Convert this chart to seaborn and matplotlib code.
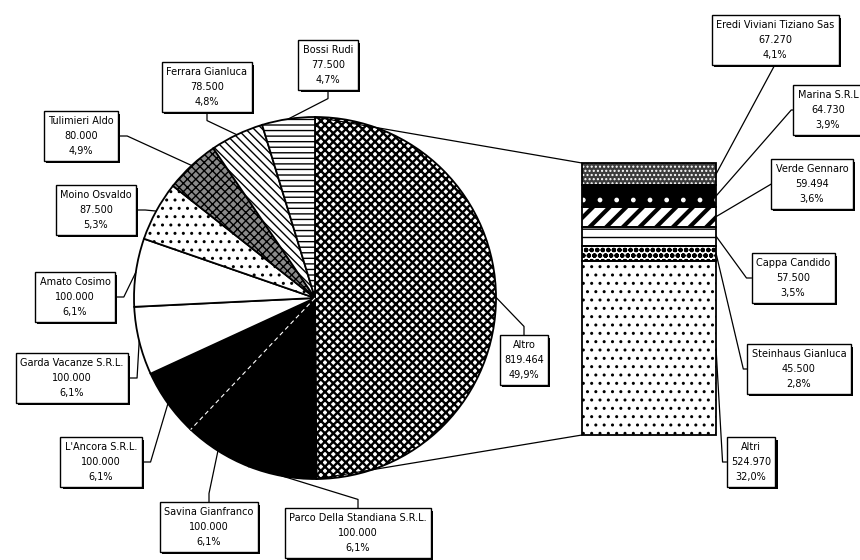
import matplotlib
matplotlib.use("Agg")
import numpy as np
import matplotlib.pyplot as plt
import matplotlib.patheffects as pe
import seaborn as sns

sns.set_theme(style="white")
plt.rcParams['font.family'] = ['DejaVu Sans']
plt.rcParams['text.color'] = 'black'
plt.rcParams['hatch.linewidth'] = 1.0

#####################################################################
# pie slices, clockwise from 12 o'clock
pie_names = ["Altro", "Parco Della Standiana S.R.L.", "Savina Gianfranco", "L'Ancora S.R.L.",
             "Garda Vacanze S.R.L.", "Amato Cosimo", "Moino Osvaldo", "Tulimieri Aldo",
             "Ferrara Gianluca", "Bossi Rudi"]
pie_values = [819464, 100000, 100000, 100000, 100000, 100000, 87500, 80000, 78500, 77500]

# the "Altro" slice broken down in the bar, bottom to top
bar_names = ["Altri", "Steinhaus Gianluca", "Cappa Candido", "Verde Gennaro",
             "Marina S.R.L", "Eredi Viviani Tiziano Sas"]
bar_values = [524970, 45500, 57500, 59494, 64730, 67270]
#####################################################################
# black & white print look
pie_faces = ['white', 'black', 'black', 'black', 'white', 'white', 'white', '#8a8a8a', 'white', 'white']
pie_hatches = ['xxxx', '', '', '', '', '', '..', 'xxxx', '\\\\\\\\', '---']
pie_hatch_lw = [1.7, 1, 1, 1, 1, 1, 1, 1.0, 1, 1]
bar_faces = ['white', 'white', 'white', 'white', 'black', '#3c3c3c']
bar_hatch_colors = ['black', 'black', 'black', 'black', 'white', 'white']
bar_hatches = ['..', 'ooo', '--', '//', '.', '....']
bar_hatch_lw = [1.0, 1.6, 1.0, 3.0, 1.0, 1.0]

# label box centres (pixels) and the side the leader leaves from
pie_label_xy = [(524, 360), (358, 533), (209, 527), (101, 462), (72, 378),
                (75, 297), (96, 210), (81, 136), (207, 87), (328, 65)]
pie_label_side = ['t', 't', 't', 'r', 'r', 'r', 'r', 'r', 'b', 'b']
bar_label_xy = [(751, 462), (799, 369), (793, 278), (812, 184), (828, 110), (775, 40)]
bar_label_side = ['l', 'l', 'l', 'l', 'l', 'b']
bar_label_elbow = [4, 4, 5, 0, 2, 0]

W, H = 860, 560
CX, CY, R = 315, 298, 181
BL, BT, BR, BB = 582, 163, 716, 435   # bar box in pixels

total = sum(pie_values)


def fmt(name, v):
    val = f"{v:,}".replace(",", ".")
    pct = f"{v / total * 100:.1f}".replace(".", ",") + "%"
    return f"{name}\n{val}\n{pct}"


def edge_pt(deg, r=R):
    a = np.radians(deg)
    return CX + r * np.sin(a), CY - r * np.cos(a)


def set_hatch_lw(patch, lw):
    if hasattr(patch, 'set_hatch_linewidth'):
        patch.set_hatch_linewidth(lw)
    elif hasattr(patch, '_hatch_linewidth'):
        patch._hatch_linewidth = lw


fig = plt.figure(figsize=(W / 100, H / 100), dpi=100)
ax = fig.add_axes([0, 0, 1, 1])

wedges, _ = ax.pie(pie_values, startangle=-90, counterclock=True, center=(CX, CY), radius=R,
                   colors=pie_faces, wedgeprops=dict(edgecolor='black', linewidth=1.3))
for w, h, lw in zip(wedges, pie_hatches, pie_hatch_lw):
    w.set_hatch(h)
    set_hatch_lw(w, lw)
ax.set_xlim(0, W)
ax.set_ylim(H, 0)
ax.set_aspect('equal')
ax.axis('off')

cum = np.concatenate([[0], np.cumsum(pie_values)]) / total * 360
mids = (cum[:-1] + cum[1:]) / 2

# dashed white divider inside the black block
px, py = edge_pt(cum[3])
ax.plot([CX, px], [CY, py], color='white', lw=0.8, ls=(0, (4, 3)), zorder=3)

# stacked bar
bax = fig.add_axes([BL / W, 1 - BB / H, (BR - BL) / W, (BB - BT) / H])
bottoms = np.concatenate([[0], np.cumsum(bar_values)[:-1]])
for v, b, fc, hc, h, lw in zip(bar_values, bottoms, bar_faces, bar_hatch_colors, bar_hatches, bar_hatch_lw):
    bars = bax.bar(0, v, bottom=b, width=1, color=fc, edgecolor=hc, hatch=h, linewidth=0)
    for p in bars:
        set_hatch_lw(p, lw)
bax.bar(0, bar_values, bottom=bottoms, width=1, fill=False, edgecolor='black',
        linewidth=1.3, clip_on=False)
bax.set_xlim(-0.5, 0.5)
bax.set_ylim(0, sum(bar_values))
bax.axis('off')


def bar_to_main(x, y):
    return ax.transData.inverted().transform(bax.transData.transform((x, y)))


# pie -> bar connectors
for deg, yb in [(cum[0], sum(bar_values)), (cum[1], 0)]:
    p0 = edge_pt(deg)
    p1 = bar_to_main(-0.5, yb)
    ax.plot([p0[0], p1[0]], [p0[1], p1[1]], color='black', lw=0.9, zorder=3)

# label boxes
shadow = [pe.SimplePatchShadow(offset=(1.5, -1.5), shadow_rgbFace='black', alpha=1.0), pe.Normal()]


def box(x, y, s):
    t = ax.text(x, y, s, ha='center', va='center', fontsize=7, linespacing=1.65, zorder=6,
                color='black',
                bbox=dict(boxstyle='square,pad=0.45', fc='white', ec='black', lw=1))
    t.get_bbox_patch().set_path_effects(shadow)
    return t


pie_texts = [box(x, y, fmt(n, v)) for n, v, (x, y) in zip(pie_names, pie_values, pie_label_xy)]
bar_texts = [box(x, y, fmt(n, v)) for n, v, (x, y) in zip(bar_names, bar_values, bar_label_xy)]
fig.canvas.draw()
inv = ax.transData.inverted()


def attach(t, side, e):
    pts = inv.transform(t.get_bbox_patch().get_window_extent().get_points())
    x0, x1 = sorted(pts[:, 0])
    y0, y1 = sorted(pts[:, 1])
    xc, yc = (x0 + x1) / 2, (y0 + y1) / 2
    if side == 'b':
        return (xc, y1 + e), (xc, y1)
    if side == 't':
        return (xc, y0 - e), (xc, y0)
    if side == 'r':
        return (x1 + e, yc), (x1, yc)
    return (x0 - e, yc), (x0, yc)


for t, side, m in zip(pie_texts, pie_label_side, mids):
    el, at = attach(t, side, 9)
    p = edge_pt(m)
    ax.plot([p[0], el[0], at[0]], [p[1], el[1], at[1]], color='black', lw=0.9, zorder=4)

for t, side, e, v, b in zip(bar_texts, bar_label_side, bar_label_elbow, bar_values, bottoms):
    el, at = attach(t, side, e)
    p = bar_to_main(0.5, b + v / 2)
    ax.plot([p[0], el[0], at[0]], [p[1], el[1], at[1]], color='black', lw=0.9, zorder=4)

fig.savefig('out.png', dpi=100, facecolor='white')
